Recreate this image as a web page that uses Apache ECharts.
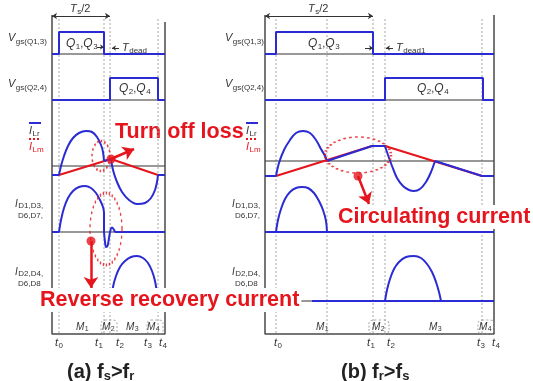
<!DOCTYPE html>
<html>
<head>
<meta charset="utf-8">
<script src="https://cdn.jsdelivr.net/npm/echarts@6/dist/echarts.min.js"></script>
<style>
html, body { margin: 0; padding: 0; background: #fff; }
#chart { width: 533px; height: 381px; }
</style>
</head>
<body>
<div id="chart"></div>
<script>
// drawing units = pixels of the 533x381 figure, y grows downwards

// ---- panel (a)  fs > fr ----
var aFrame = [[52,15],[52,334],[165,334],[165,22]];
var aTimes = [59, 104, 110, 158];
var aZero = [54, 100, 166, 232, 300];
var aGate1 = [[52,54],[59,54],[59,32],[104,32],[104,54],[165,54]];
var aGate2 = [[52,100],[110,100],[110,78],[158,78],[158,100],[165,100]];
var aLrHead = [[52,175],[59,175]];
var aLrArc1 = [[59,175],[61,166],[64,156],[68,146],[73,138],[79,133],[86,131],[92,132],[97,137],[101,145],[103,152],[104,161]];
var aLrMid = [[104,161],[111,159]];
var aLrArc2 = [[111,159],[113,170],[117,182],[122,192],[129,200],[137,204],[145,203],[151,198],[155,190],[157,182],[158,175]];
var aLrTail = [[158,175],[165,175]];
var aLm = [[59,175],[111,159],[158,175]];
var aD1Head = [[52,232],[59,232]];
var aD1Arc = [[59,232],[61,220],[64,208],[68,198],[73,191],[79,187],[85,186],[91,188],[96,193],[100,200],[103,207],[104,212]];
var aD1Drop = [[104,212],[104,232]];
var aD1Ring = [[104,232],[105,242],[106,247],[107.5,246],[109,238],[110.5,230],[112,227.5],[113.5,229],[115,232]];
var aD1Tail = [[115,232],[165,232]];
var aD2Base = [[52,300],[165,300]];
var aD2Arc = [[112,300],[113,287],[116,276],[120,267],[125,261],[131,257],[137,256],[143,258],[148,263],[152,271],[155,281],[157,293],[157.5,300]];

// ---- panel (b)  fr > fs ----
var bFrame = [[265,15],[265,334],[494,334],[494,15]];
var bTimes = [276, 327, 373, 385, 482];
var bZero = [54, 100, 161, 232, 301];
var bGate1 = [[265,54],[276,54],[276,32],[373,32],[373,54],[494,54]];
var bGate2 = [[265,100],[385,100],[385,78],[483,78],[483,100],[494,100]];
var bLrHead = [[265,176],[276,176]];
var bLrArc1 = [[276,176],[279,163],[284,150],[290,140],[296,133],[303,131],[310,133],[316,140],[321,149],[325,156],[327,161]];
var bLrRamp = [[327,161],[372,146],[385,146]];
var bLrArc2 = [[385,146],[388,155],[392,166],[397,178],[403,186],[409,190],[414,191],[420,189],[426,182],[431,172],[435,161]];
var bLrTail = [[435,161],[482,176],[494,176]];
var bLm = [[276,176],[372,146],[385,146],[482,176]];
var bD1Base = [[265,232],[494,232]];
var bD1Arc = [[276,232],[278,220],[281,209],[285,199],[290,192],[296,188],[302,187],[308,188],[314,193],[319,201],[323,210],[326,221],[327,232]];
var bD2Base = [[312,301],[494,301]];
var bD2Arc = [[385,301],[387,290],[390,279],[394,269],[399,262],[406,257],[414,256],[421,258],[427,264],[432,272],[436,282],[439,292],[441,301]];

// ---- annotations ----
var rings = [[101,156],[106,229],[358,155]];
var ringSizes = [[18,30],[32,72],[66,36]];
var hotDots = [[111,159],[91,241],[358,176]];
var pointers = [[[111,159],[134,149]], [[91,241],[91,288]], [[358,176],[369,204]]];
var halfPeriods = [[[52,16],[110,16]], [[265,16],[373,16]]];
var deadArrows = [[[97,47],[104,47]], [[119,48],[112,48]], [[365,48],[373,48]], [[393,48],[386,48]]];
var modeBoxes = [[109,327],[155,327],[379,327],[486,327]];
var modeBoxSizes = [[16,14],[16,14],[20,14],[16,14]];

var BLUE = '#2b2bd4', RED = '#e6141c', INK = '#333', DOT = '#a8a8a8';
var FONT = '"Liberation Sans", Arial, sans-serif';

var series = [];
function path(data, color, width, z, extra) {
  var s = {
    type: 'line', data: data, symbol: 'none', silent: true, animation: false, z: z,
    lineStyle: { color: color, width: width, type: (extra && extra.dash) || 'solid' }
  };
  if (extra && extra.smooth) s.smooth = extra.smooth;
  series.push(s);
}

// guide lines
aTimes.concat(bTimes).forEach(function (x) {
  path([[x, 19], [x, 334]], DOT, 1, 1, { dash: [2, 2] });
});
aZero.forEach(function (y) { path([[52, y], [165, y]], INK, 1.2, 2); });
bZero.forEach(function (y) { path([[265, y], [494, y]], INK, 1.2, 2); });
path(aFrame, '#4a4a4a', 1.5, 2);
path(bFrame, '#4a4a4a', 1.5, 2);

// waveforms
[aGate1, aGate2, bGate1, bGate2].forEach(function (d) { path(d, BLUE, 2, 3); });
path(aLm, RED, 2, 3);
path(bLm, RED, 2, 3);
[aLrHead, aLrMid, aLrTail, aD1Head, aD1Drop, aD1Tail, bLrHead, bLrRamp, bLrTail, bD1Base, bD2Base].forEach(function (d) {
  path(d, BLUE, 2, 4);
});
[aLrArc1, aLrArc2, aD1Arc, aD1Ring, aD2Arc, bLrArc1, bLrArc2, bD1Arc, bD2Arc].forEach(function (d) {
  path(d, BLUE, 2, 4, { smooth: 0.35 });
});
path(aD2Base, BLUE, 2, 3);

series.push({
  type: 'scatter', silent: true, animation: false, z: 5, symbol: 'circle',
  data: rings.map(function (c, i) { return { value: c, symbolSize: ringSizes[i] }; }),
  itemStyle: { color: 'rgba(0,0,0,0)', borderColor: RED, borderWidth: 2, borderType: [2, 2.5] }
});
series.push({
  type: 'scatter', silent: true, animation: false, z: 5, symbol: 'roundRect',
  data: modeBoxes.map(function (c, i) { return { value: c, symbolSize: modeBoxSizes[i] }; }),
  itemStyle: { color: 'rgba(0,0,0,0)', borderColor: '#999', borderWidth: 1, borderType: [2, 2] }
});
series.push({
  type: 'scatter', silent: true, animation: false, z: 7, symbol: 'circle', symbolSize: 9,
  data: hotDots, itemStyle: { color: RED }
});
series.push({
  type: 'lines', coordinateSystem: 'cartesian2d', silent: true, animation: false, z: 7,
  symbol: ['none', 'arrow'], symbolSize: 11,
  data: pointers.map(function (c) { return { coords: c }; }),
  lineStyle: { color: RED, width: 2.5, opacity: 1 }
});
series.push({
  type: 'lines', coordinateSystem: 'cartesian2d', silent: true, animation: false, z: 6,
  symbol: ['arrow', 'arrow'], symbolSize: 5,
  data: halfPeriods.map(function (c) { return { coords: c }; }),
  lineStyle: { color: INK, width: 1, opacity: 1 }
});
series.push({
  type: 'lines', coordinateSystem: 'cartesian2d', silent: true, animation: false, z: 6,
  symbol: ['none', 'arrow'], symbolSize: 4,
  data: deadArrows.map(function (c) { return { coords: c }; }),
  lineStyle: { color: INK, width: 1, opacity: 1 }
});

// text
var ctx = document.createElement('canvas').getContext('2d');
var graphics = [];
function fnt(size, style) { return (style || 'normal') + ' ' + size + 'px ' + FONT; }
function label(x, y, parts, color) {
  var cx = x;
  parts.forEach(function (p) {
    var f = fnt(p[1], p[2]);
    ctx.font = f;
    graphics.push({
      type: 'text', x: cx, y: y + (p[3] || 0), z: 20, silent: true,
      style: { text: p[0], font: f, fill: color, align: 'left', verticalAlign: 'middle', textAlign: 'left', textVerticalAlign: 'middle' }
    });
    cx += ctx.measureText(p[0]).width + (p[2] === 'italic' ? 0.5 : 0);
  });
}
function banner(x, y, text, masked) {
  var st = { text: text, font: fnt(21.5, 'bold'), fill: RED, align: 'left', verticalAlign: 'middle',
    textAlign: 'left', textVerticalAlign: 'middle' };
  if (masked) { st.backgroundColor = '#fff'; st.padding = [1, 2]; }
  graphics.push({ type: 'text', x: x, y: y, z: masked ? 15 : 1, silent: true, style: st });
}
function rule(x1, x2, y, color, dash) {
  graphics.push({
    type: 'line', z: 20, silent: true, shape: { x1: x1, y1: y, x2: x2, y2: y },
    style: { stroke: color, lineWidth: 2, lineDash: dash || null }
  });
}

function rowLabels(ox) {
  label(ox + 8, 38, [['V', 11, 'italic'], ['gs(Q1,3)', 8, 'normal', 4]], INK);
  label(ox + 8, 84, [['V', 11, 'italic'], ['gs(Q2,4)', 8, 'normal', 4]], INK);
  rule(ox + 29, ox + 41, 123, BLUE);
  label(ox + 29, 131, [['I', 11, 'italic'], ['Lr', 8, 'normal', 3]], INK);
  rule(ox + 29, ox + 41, 139, RED, [2, 2]);
  label(ox + 29, 147, [['I', 11, 'italic'], ['Lm', 8, 'normal', 3]], RED);
  label(ox + 15, 204, [['I', 10, 'italic'], ['D1,D3,', 8, 'normal', 2]], INK);
  label(ox + 18, 216, [['D6,D7,', 8, 'normal']], INK);
  label(ox + 15, 272, [['I', 10, 'italic'], ['D2,D4,', 8, 'normal', 2]], INK);
  label(ox + 18, 284, [['D6,D8', 8, 'normal']], INK);
}
rowLabels(0);
rowLabels(217);

function qPair(x, y, a, b) {
  label(x, y, [['Q', 12, 'italic'], [a, 8, 'normal', 3], [',', 11, 'normal'], ['Q', 12, 'italic'], [b, 8, 'normal', 3]], INK);
}
qPair(66, 44, '1', '3');
qPair(119, 89, '2', '4');
qPair(308, 44, '1', '3');
qPair(417, 89, '2', '4');
label(122, 48, [['T', 11, 'italic'], ['dead', 8, 'normal', 3]], INK);
label(396, 48, [['T', 11, 'italic'], ['dead1', 8, 'normal', 3]], INK);
label(70, 9, [['T', 11, 'italic'], ['s', 8, 'normal', 3], ['/2', 11, 'normal']], INK);
label(308, 9, [['T', 11, 'italic'], ['s', 8, 'normal', 3], ['/2', 11, 'normal']], INK);

var modeNames = ['1', '2', '3', '4'];
var aModeX = [76, 102, 126, 147], bModeX = [316, 372, 429, 479];
modeNames.forEach(function (n, i) {
  label(aModeX[i], 327, [['M', 10, 'italic'], [n, 7, 'normal', 2]], INK);
  label(bModeX[i], 327, [['M', 10, 'italic'], [n, 7, 'normal', 2]], INK);
});
var timeNames = ['0', '1', '2', '3', '4'];
var aTimeX = [55, 95, 116, 144, 159], bTimeX = [274, 367, 387, 477, 492];
timeNames.forEach(function (n, i) {
  label(aTimeX[i], 343, [['t', 11, 'italic'], [n, 8, 'normal', 3]], INK);
  label(bTimeX[i], 343, [['t', 11, 'italic'], [n, 8, 'normal', 3]], INK);
});

label(67, 372, [['(a) f', 20, 'bold'], ['s', 13, 'bold', 4], ['>f', 20, 'bold'], ['r', 13, 'bold', 4]], '#222');
label(341, 372, [['(b) f', 20, 'bold'], ['r', 13, 'bold', 4], ['>f', 20, 'bold'], ['s', 13, 'bold', 4]], '#222');

banner(115, 132, 'Turn off loss', false);
banner(38, 300, 'Reverse recovery current', true);
banner(336, 217, 'Circulating current', true);

var chart = echarts.init(document.getElementById('chart'));
chart.setOption({
  animation: false,
  backgroundColor: '#fff',
  grid: { left: 0, right: 0, top: 0, bottom: 0 },
  xAxis: { type: 'value', min: 0, max: 533, show: false },
  yAxis: { type: 'value', min: 0, max: 381, inverse: true, show: false },
  graphic: graphics,
  series: series
});
</script>
</body>
</html>
